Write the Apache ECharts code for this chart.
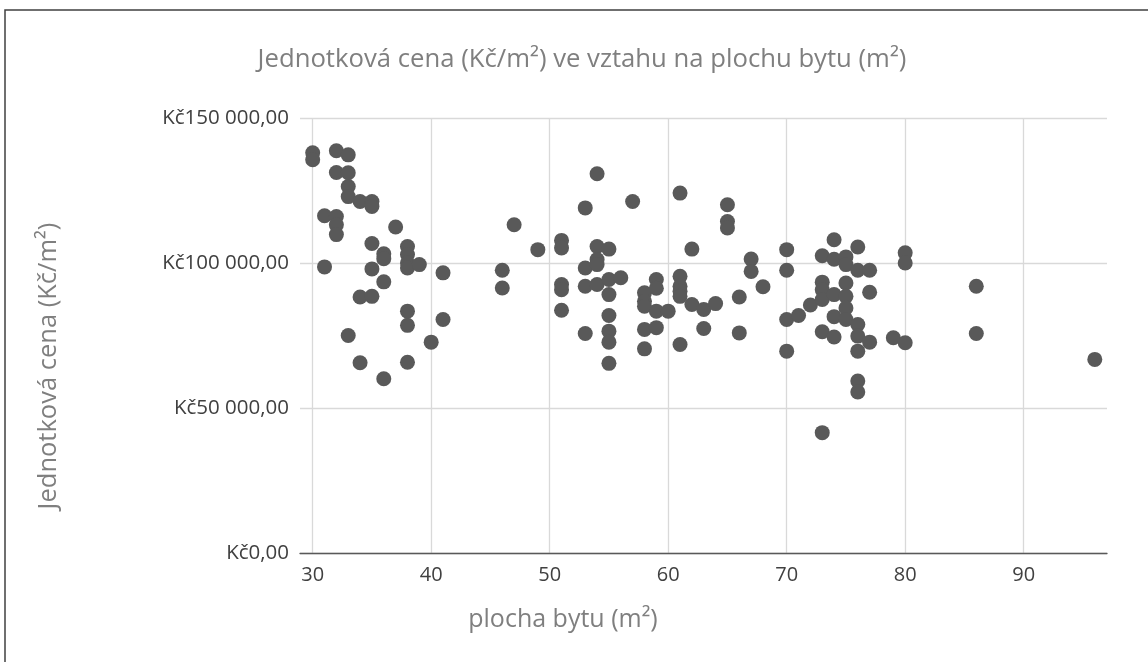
<!DOCTYPE html>
<html>
<head>
<meta charset="utf-8">
<script src="https://cdn.jsdelivr.net/npm/echarts@6/dist/echarts.min.js"></script>
<style>
html,body{margin:0;padding:0;background:#fff;}
#chart{width:1148px;height:662px;}
</style>
</head>
<body>
<div id="chart"></div>
<script>
// plocha bytu (m2)
var areaX = [
30,30,
31,31,
32,32,32,32,32,
33,33,33,33,33,
34,34,34,
35,35,35,35,35,
36,36,36,36,
37,
38,38,38,38,38,38,38,
39,
40,
41,41,
46,46,
47,
49,
51,51,51,51,51,
53,53,53,53,
54,54,54,54,54,
55,55,55,55,55,55,55,
56,
57,
58,58,58,58,58,
59,59,59,59,
60,
61,61,61,61,61,61,
62,62,
63,63,
64,
65,65,65,
66,66,
67,67,
68,
70,70,70,70,
71,
72,
73,73,73,73,73,73,
74,74,74,74,74,
75,75,75,75,75,75,
76,76,76,76,76,76,76,
77,77,77,
79,
80,80,80,
86,86,
96
];
// jednotková cena (Kč/m2)
var priceY = [
138000,135600,
116300,98650,
138700,131200,116000,113200,109800,
137300,131100,126400,122900,75000,
121200,88300,65600,
121200,119500,106700,97960,88500,
103200,101500,93500,60100,
112400,
105700,102900,100000,98300,83400,78500,65800,
99450,
72700,
96600,80500,
97500,91400,
113200,
104600,
107800,105200,92600,90800,83700,
119000,98300,92000,75700,
130800,105700,101200,99450,92600,
104800,94300,89100,81900,76500,72700,65400,
94900,
121200,
89700,86800,85100,77100,70400,
94300,91300,83400,77700,
83400,
124100,95400,92000,90300,88500,71900,
104800,85700,
84000,77400,
86000,
120100,114300,112100,
88300,75900,
101400,97100,
91800,
104600,97500,80500,69600,
81900,
85500,
102500,93400,90800,87400,76300,41500,
108000,101300,89100,81500,74500,
102100,99450,93100,88500,84500,80500,
105500,97500,78800,74800,69600,59300,55500,
97500,89900,72700,
74200,
103500,100000,72500,
92000,75700,
66750
];
var xTicks = [30,40,50,60,70,80,90];
var titleText = 'Jednotková cena (Kč/m²) ve vztahu na plochu bytu (m²)';
var yName = 'Jednotková cena (Kč/m²)';
var xName = 'plocha bytu (m²)';

var points = areaX.map(function(x,i){return [x, priceY[i]];});

function fmtKc(v){
  var s = String(Math.round(v)).replace(/\B(?=(\d{3})+(?!\d))/g, ' ');
  return 'Kč' + s + ',00';
}

var fam = '"Open Sans", "Noto Sans", sans-serif';
var nameColor = '#7f7f7f';
var chart = echarts.init(document.getElementById('chart'), null, {renderer:'canvas'});
chart.setOption({
  animation:false,
  backgroundColor:'#ffffff',
  graphic:[{
    type:'rect',
    shape:{x:5,y:10,width:1170,height:700},
    style:{fill:'none', stroke:'#404040', lineWidth:1.5},
    silent:true
  },{
    type:'text', x:582, y:60,
    style:{text:titleText, font:'25.7px ' + fam, fill:nameColor, align:'center', verticalAlign:'middle'}
  },{
    type:'text', x:49, y:366, rotation:Math.PI/2,
    style:{text:yName, font:'25.5px ' + fam, fill:nameColor, align:'center', verticalAlign:'middle'}
  },{
    type:'text', x:563, y:620,
    style:{text:xName, font:'25px ' + fam, fill:nameColor, align:'center', verticalAlign:'middle'}
  }],
  grid:{left:300, right:41, top:118, bottom:109, containLabel:false},
  xAxis:{
    type:'value',
    min:28.93, max:97.03,
    axisLine:{show:true, onZero:false, lineStyle:{color:'#595959', width:1.3}},
    axisTick:{show:false, customValues:xTicks},
    axisLabel:{customValues:xTicks, fontFamily:fam, fontSize:20, color:'#404040', margin:12},
    splitLine:{show:true, lineStyle:{color:'#d9d9d9', width:1.3}}
  },
  yAxis:{
    type:'value',
    min:0, max:150000, interval:50000,
    axisLine:{show:false},
    axisTick:{show:false},
    axisLabel:{formatter:fmtKc, fontFamily:fam, fontSize:20.5, color:'#404040', margin:11},
    splitLine:{show:true, lineStyle:{color:'#d9d9d9', width:1.3}}
  },
  series:[{
    type:'scatter',
    data:points,
    symbol:'circle',
    symbolSize:15,
    itemStyle:{color:'#595959', opacity:1}
  }]
});
</script>
</body>
</html>
